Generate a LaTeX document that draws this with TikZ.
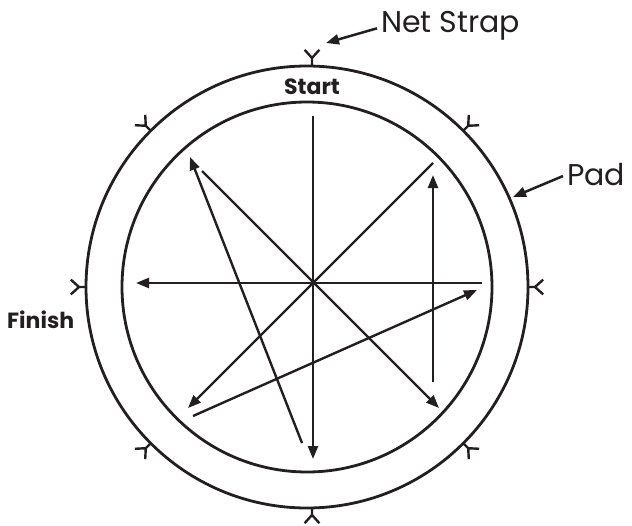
\documentclass[tikz,border=0pt]{standalone}
\usepackage{fontspec}
\setmainfont{Poppins}
\usetikzlibrary{arrows.meta}
\definecolor{ink}{HTML}{231F20}
\begin{document}
\begin{tikzpicture}[x=1pt,y=-1pt,
  ring/.style={draw=ink,line width=2.8pt},
  ray/.style={draw=ink,line width=2.4pt,-{Triangle[length=13pt,width=10pt]}},
  strapline/.style={draw=ink,line width=2.4pt,line cap=butt},
  lbl/.style={text=ink,font=\fontsize{30}{32}\selectfont,inner sep=0pt},
  blbl/.style={text=ink,font=\bfseries\fontsize{22}{24}\selectfont,inner sep=0pt},
  callout/.style={draw=ink,line width=2.5pt,-{Triangle[length=13pt,width=10pt]}}]
\useasboundingbox (0,0) rectangle (632,525);
% circles
\coordinate (c0) at (307,287);
\draw[ring] (c0) circle[radius=221pt];
\draw[ring] (c0) circle[radius=185pt];
% net straps
\foreach \a in {0,45,135,180,225,315}{
  \draw[strapline] (c0) ++(\a:221pt) -- ++(\a:7pt) coordinate (f) -- ++(\a+42:11pt)
        (f) -- ++(\a-42:11pt);
}
\coordinate (st) at (312,65);
\draw[strapline] (st) -- ++(90:7pt) coordinate (f) -- ++(132:11pt) (f) -- ++(48:11pt);
\coordinate (sb) at (312,508);
\draw[strapline] (sb) -- ++(270:7pt) coordinate (f) -- ++(312:11pt) (f) -- ++(228:11pt);
% labels
\node[lbl,anchor=base west] (netstrap) at (381,32) {Net Strap};
\node[lbl,anchor=base west] (pad) at (567,185) {Pad};
\node[blbl,anchor=base] (start) at (312,94) {Start};
\node[blbl,anchor=base west] (finish) at (7,328) {Finish};
\coordinate (nsTip) at (326,43);
\coordinate (padTip) at (513,197);
\draw[callout] ([xshift=-4pt,yshift=-3pt]netstrap.west) -- (nsTip);
\draw[callout] ([xshift=-4pt,yshift=-2pt]pad.west) -- (padTip);
% star lines
\coordinate (C) at (313,283);
\coordinate (vTop) at (313,116);
\coordinate (vBot) at (313,459);
\coordinate (hR) at (482,283);
\coordinate (hL) at (136,283);
\coordinate (ne) at (433,163);
\coordinate (sw) at (188,408);
\coordinate (nw) at (202,171);
\coordinate (se) at (439,408);
\coordinate (aS) at (302,443);
\coordinate (aN) at (190,157);
\coordinate (bS) at (433,382);
\coordinate (bN) at (433,175);
\coordinate (cS) at (193,416);
\coordinate (cN) at (477,290);
\draw[ray] (vTop) -- (vBot);
\draw[ray] (hR) -- (hL);
\draw[ray] (ne) -- (sw);
\draw[ray] (nw) -- (se);
\draw[ray] (aS) -- (aN);
\draw[ray] (bS) -- (bN);
\draw[ray] (cS) -- (cN);
\fill[ink] (C) circle[radius=2pt];
\end{tikzpicture}
\end{document}
